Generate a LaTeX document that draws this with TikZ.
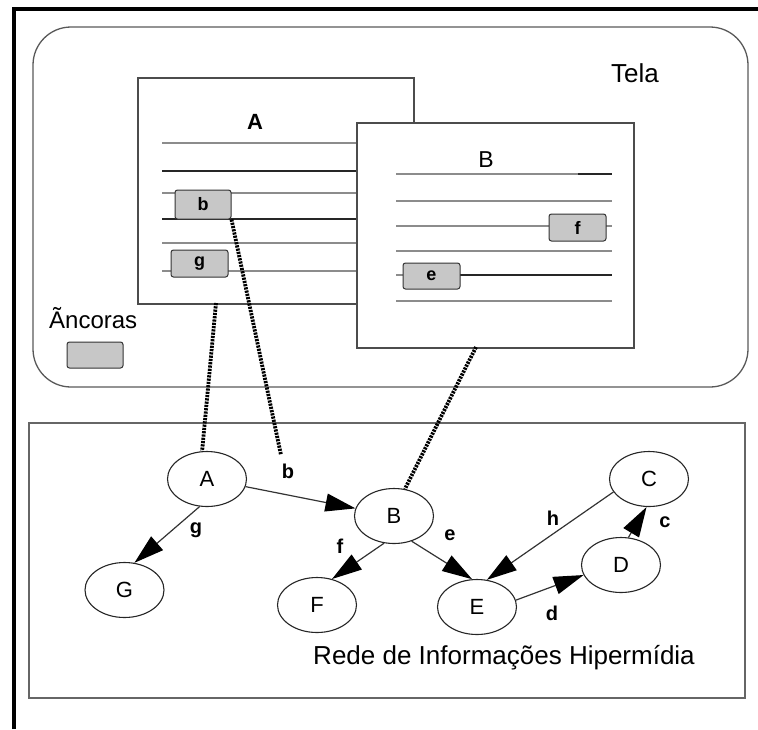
\documentclass[tikz,border=0pt]{standalone}
\usepackage{fontspec}
\setmainfont{Liberation Sans}
\usetikzlibrary{shapes.geometric,arrows.meta}

\begin{document}
\begin{tikzpicture}[x=1pt,y=-1pt,
  net/.style={ellipse,draw=black!85,line width=1.1pt,minimum width=79pt,
    minimum height=55pt,inner sep=0pt,font=\fontsize{22}{24}\selectfont},
  link/.style={draw=black!80,line width=1.2pt,
    -{Triangle[length=30pt,width=18pt,color=black,fill=black]}},
  lbl/.style={font=\bfseries\fontsize{20}{22}\selectfont,inner sep=0pt},
  anchorbox/.style={draw=black!80,fill=black!22,rounded corners=2.5pt,line width=1pt,
    inner sep=0pt,font=\bfseries\fontsize{18}{20}\selectfont},
  txtline/.style={draw=black!45,line width=1.2pt},
  darkline/.style={draw=black!85,line width=1.2pt},
  window/.style={draw=black!70,fill=white,line width=1.2pt,rectangle,inner sep=0pt},
  tie/.style={draw=black,line width=3.8pt,dash pattern=on 2.2pt off 1.1pt}
]
\useasboundingbox (0,0) rectangle (758,729);

% outer frame (left and top edges)
\draw[line width=3.5pt] (14,729) -- (14,9) -- (758,9);

% the screen
\draw[draw=black!65,line width=1.3pt,rounded corners=38pt] (33,27) rectangle (748,387);
\node[font=\fontsize{26}{30}\selectfont] (tela) at (635,73) {Tela};

% window A
\node[window,minimum width=276pt,minimum height=226pt] (winA) at (276,191) {};
\node[font=\bfseries\fontsize{22}{26}\selectfont] (titA) at (255,122) {A};
\draw[txtline] (162,143) -- (358,143);
\draw[darkline] (162,171) -- (358,171);
\draw[txtline] (162,193) -- (358,193);
\draw[darkline] (162,219) -- (358,219);
\draw[txtline] (162,243) -- (358,243);
\draw[txtline] (162,271) -- (358,271);
\node[anchorbox,minimum width=56pt,minimum height=29pt] (ancB) at (203,204.5) {b};
\node[anchorbox,minimum width=57pt,minimum height=27pt] (ancG) at (199.5,263.5) {g};

% window B
\node[window,minimum width=277pt,minimum height=225pt] (winB) at (495.5,235.5) {};
\node[font=\fontsize{23}{26}\selectfont] (titB) at (486,160) {B};
\draw[txtline] (396,174) -- (578,174);
\draw[darkline] (578,174) -- (612,174);
\draw[txtline] (396,201) -- (612,201);
\draw[txtline] (396,226) -- (612,226);
\draw[txtline] (396,251) -- (612,251);
\draw[txtline] (396,275) -- (430,275);
\draw[darkline] (430,275) -- (612,275);
\draw[txtline] (396,301) -- (612,301);
\node[anchorbox,minimum width=57pt,minimum height=27pt] (ancF) at (577.5,227.5) {f};
\node[anchorbox,minimum width=57pt,minimum height=26pt] (ancE) at (431.5,276) {e};

% legend
\node[font=\fontsize{24}{28}\selectfont,anchor=west,inner sep=0pt] (leg) at (49,318) {Ãncoras};
\node[anchorbox,minimum width=56pt,minimum height=26pt] (legbox) at (95,355) {};

% hypermedia network
\draw[draw=black!60,line width=1.8pt] (29,423) rectangle (745,698);
\node[net] (nA) at (207,479) {A};
\node[net] (nG) at (124.5,590) {G};
\node[net] (nB) at (394,516) {B};
\node[net] (nF) at (317,605) {F};
\node[net] (nE) at (477,607) {E};
\node[net] (nD) at (621,565) {D};
\node[net] (nC) at (649,479) {C};

\draw[link] (nA) -- (nB);
\draw[link] (nA.255) -- (nG.70);
\draw[link] (nB.250) -- (nF.60);
\draw[link] (nB.305) -- (nE.100);
\draw[link] (nC.200) -- (nE.70);
\draw[link] (nE.10) -- (nD.195);
\draw[link] (nD.75) -- (nC.265);

\node[lbl] (lb) at (288,471) {b};
\node[lbl] (lg) at (196,530) {g};
\node[lbl] (lf) at (340,546) {f};
\node[lbl] (le) at (450,535) {e};
\node[lbl] (lh) at (553,518) {h};
\node[lbl] (ld) at (552,613) {d};
\node[lbl] (lc) at (665,522) {c};

\node[font=\fontsize{26}{30}\selectfont] (rede) at (504,658) {Rede de Informações Hipermídia};

% links between the screen and the network
\coordinate (dropA) at (216,303);
\coordinate (dropB) at (476,347);
\coordinate (endb) at (281,455);
\draw[tie] (dropA) -- (nA.100);
\draw[tie] (ancB.south east) -- (endb);
\draw[tie] (dropB) -- (nB.68);
\end{tikzpicture}
\end{document}
